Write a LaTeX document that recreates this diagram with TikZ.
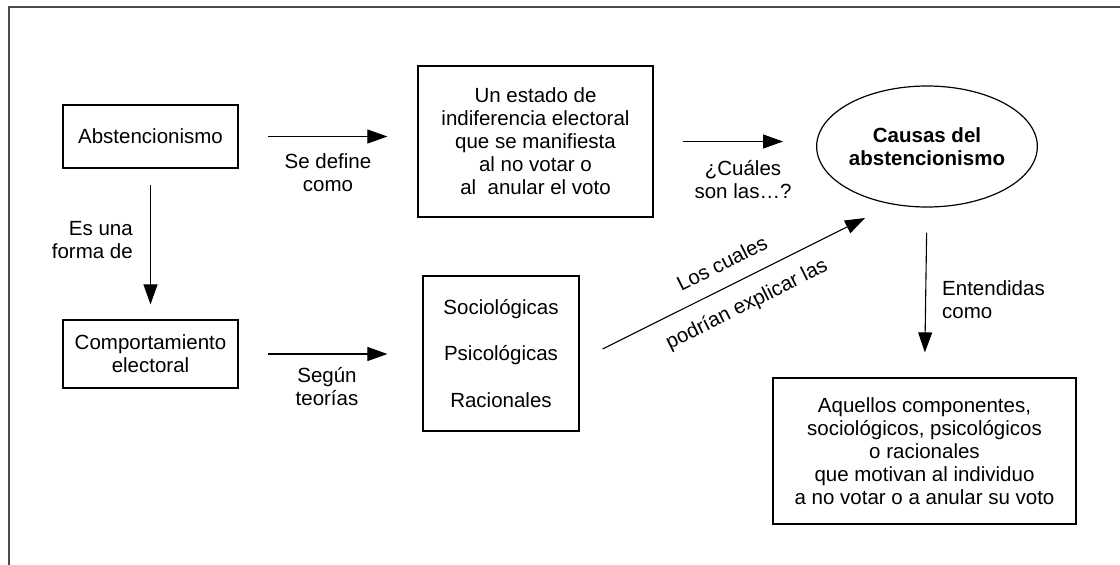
\documentclass[tikz,border=0pt]{standalone}
\usepackage{fontspec}
\setmainfont{Liberation Sans}
\usetikzlibrary{arrows.meta,shapes.geometric}
\newcommand\myfs{\fontsize{20.5}{23}\selectfont}
\begin{document}
\begin{tikzpicture}[x=1pt,y=-1pt,
  box/.style={draw, line width=1.2pt, inner sep=0pt, align=center, font=\myfs},
  arr/.style={draw, line width=1.1pt, -{Triangle[length=20pt,width=14pt]}},
  lbl/.style={align=center, font=\myfs, inner sep=0pt}]
\useasboundingbox (0,0) rectangle (1120,565);
% frame
\draw[line width=1.4pt, black!70] (9,565) -- (9,7) -- (1120,7);
% nodes
\node[box, minimum width=175pt, minimum height=63pt] (abst) at (150.5,136.5) {Abstencionismo};
\node[box, minimum width=235pt, minimum height=151pt] (estado) at (535.5,141.5)
  {Un estado de\\indiferencia electoral\\que se manifiesta\\al no votar o\\al\ \ anular el voto};
\node[draw, ellipse, line width=1.2pt, inner sep=0pt, minimum width=188pt, minimum height=121pt,
  align=center, font=\myfs\bfseries] (causas) at (927,146.5) {Causas del\\abstencionismo};
\node[box, minimum width=175pt, minimum height=68pt] (comp) at (150.5,354) {Comportamiento\\electoral};
\node[box, minimum width=156pt, minimum height=155pt, font=\fontsize{20.5}{46.5}\selectfont] (teor) at (501,353.5)
  {Sociológicas\\Psicológicas\\Racionales};
\node[box, minimum width=303pt, minimum height=146pt] (aquellos) at (924.5,451)
  {Aquellos componentes,\\sociológicos, psicológicos\\o racionales\\que motivan al individuo\\a no votar o a anular su voto};
% connectors
\draw[arr, shorten <=29pt, shorten >=30pt] (abst.east) -- (estado.west |- abst.east);
\draw[arr, shorten <=29pt, shorten >=33pt] (estado.east) -- (causas.west |- estado.east);
\draw[arr, shorten <=16pt, shorten >=15pt] (abst.south) -- (comp.north);
\draw[arr, shorten <=29pt, shorten >=35pt] (comp.east) -- (teor.west |- comp.east);
\draw[arr] ([shift={(23,-4.5)}]teor.east) -- ([shift={(-62,71.5)}]causas.center);
\draw[arr, shorten <=25pt, shorten >=25pt] (causas.south) -- (aquellos.north);
% labels
\node[lbl] (l1) at (328,173) {Se define\\como};
\node[lbl] (l2) at (743,179.5) {¿Cuáles\\son las…?};
\node[lbl, align=right, anchor=east] (l3) at (133,240) {Es una\\forma de};
\node[lbl] (l4) at (327,386.5) {Según\\teorías};
\node[lbl, align=left, anchor=west] (l5) at (942,299.5) {Entendidas\\como};
\node[lbl, rotate=26.57] (l6) at (722,263) {Los cuales};
\node[lbl, rotate=26.57] (l7) at (747,305) {podrían explicar las};
\end{tikzpicture}
\end{document}
